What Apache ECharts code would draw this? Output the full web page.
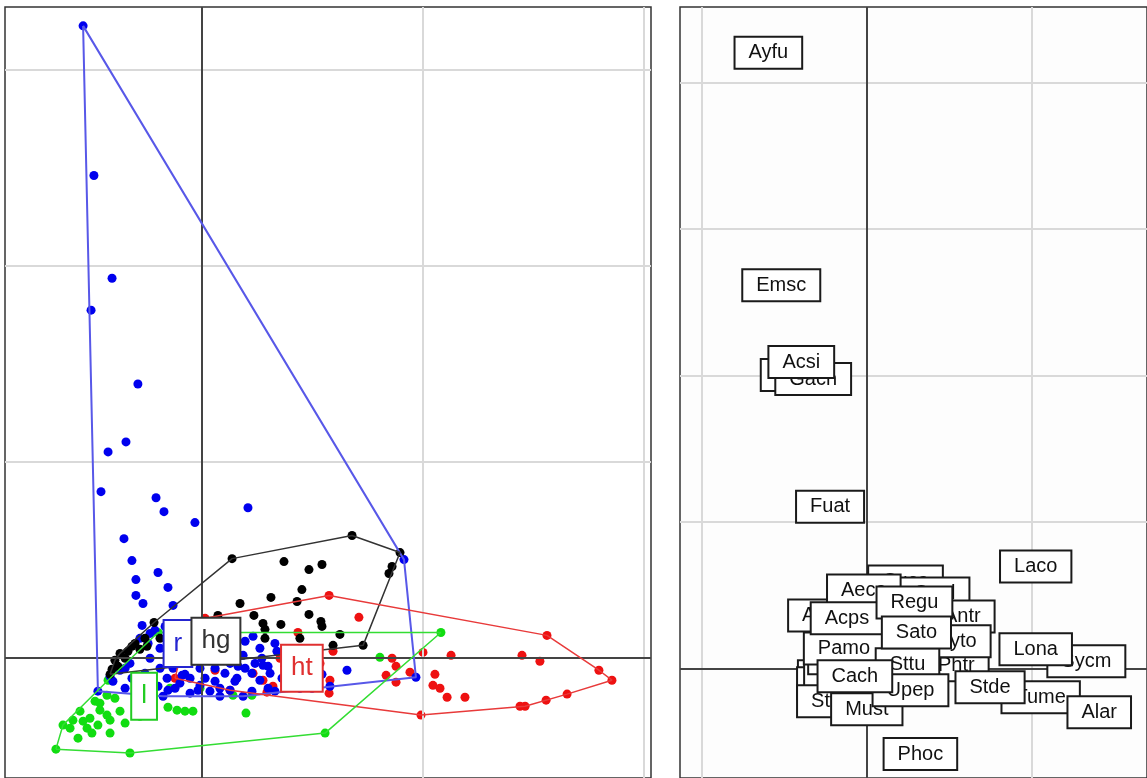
<!DOCTYPE html>
<html>
<head>
<meta charset="utf-8">
<script src="https://cdn.jsdelivr.net/npm/echarts@6/dist/echarts.min.js"></script>
<style>
  html, body { margin: 0; padding: 0; background: #fff; }
  #main { width: 1147px; height: 778px; }
</style>
</head>
<body>
<div id="main"></div>
<script>
// group scores (left panel), one grid step = 1
var rPts = [
  [-0.538,3.225],[-0.489,2.461],[-0.407,1.936],[-0.502,1.773],[-0.290,1.396],[-0.344,1.100],[-0.425,1.049],
  [-0.457,0.846],[-0.208,0.815],[-0.172,0.744],[-0.032,0.688],[0.208,0.764],[-0.353,0.606],[-0.317,0.494],
  [-0.199,0.433],[-0.299,0.397],[-0.154,0.357],[-0.299,0.316],[-0.267,0.275],[-0.131,0.265],[-0.271,0.163],
  [-0.281,0.097],[0.914,0.499],[0.968,-0.102],[0.656,-0.066],[-0.471,-0.173],[-0.403,-0.122],[0.195,0.082],
  [0.231,0.107],[0.158,-0.107],[0.036,-0.173],[-0.054,-0.107],[-0.009,-0.143],[-0.090,-0.092],[-0.131,-0.056],
  [-0.158,-0.107],[0.186,0.010],[0.271,-0.005],[0.276,-0.041],[0.149,-0.122],[0.226,-0.173],[0.339,0.031],
  [-0.176,-0.199],[0.186,-0.199],[0.579,-0.148],[-0.235,-0.005],[-0.190,0.046],[-0.326,-0.031],[-0.258,-0.082],
  [-0.348,-0.158],[-0.281,-0.148],[-0.199,-0.148],[-0.122,-0.158],[-0.054,-0.183],[0.081,-0.158],[0.104,-0.082],
  [0.059,-0.056],[0.262,-0.117],[0.308,-0.082],[0.376,-0.046],[0.421,-0.005],[0.443,-0.158],[0.525,-0.122],
  [0.014,-0.107],[-0.100,-0.132],[0.127,-0.031],[-0.244,0.071],[-0.213,0.138],[-0.371,-0.066],[-0.416,-0.097],
  [-0.290,-0.183],[0.240,-0.031],[0.299,-0.158],[0.376,-0.148],[-0.032,-0.005],[0.036,0.020],[0.136,0.046],
  [0.081,-0.199],[-0.009,-0.056],[-0.077,-0.031],[-0.190,-0.056],[0.195,-0.056],[0.330,-0.173],[0.398,-0.087],
  [0.489,-0.056],[-0.235,0.122],[-0.167,0.158],[-0.145,0.071],[-0.122,0.020],[-0.054,0.046],[0.014,-0.015],
  [0.090,-0.005],[0.163,-0.046],[0.226,-0.082],[0.299,-0.046],[0.362,-0.107],[0.425,-0.117],[0.498,-0.158],
  [0.543,-0.087],[0.059,-0.122],[0.127,-0.168],[-0.018,-0.168],[-0.077,-0.087],[-0.154,-0.168],[-0.235,-0.168],
  [-0.317,-0.107],[-0.348,-0.056],[0.262,0.046],[0.330,0.071]
];
var hgPts = [
  [0.679,0.622],[0.896,0.535],[0.136,0.504],[0.371,0.489],[0.484,0.448],[0.543,0.474],[0.860,0.464],
  [0.846,0.428],[0.452,0.346],[0.312,0.306],[0.172,0.275],[0.430,0.285],[0.235,0.214],[0.484,0.219],
  [0.276,0.173],[0.285,0.143],[0.357,0.168],[0.538,0.183],[0.543,0.158],[0.624,0.117],[0.729,0.061],
  [0.593,0.061],[-0.217,0.178],[0.072,0.214],[-0.371,0.020],[-0.407,-0.061],[-0.416,-0.087],[-0.281,0.041],
  [-0.249,0.056],[-0.335,0.031],[-0.303,0.071],[-0.190,0.097],[0.285,0.097],[0.443,0.097],[-0.394,-0.015],
  [-0.348,-0.005],[-0.317,0.056],[-0.258,0.097],[-0.380,-0.046]
];
var htPts = [
  [0.575,0.316],[0.710,0.204],[0.434,0.127],[1.561,0.112],[1.000,0.025],[1.127,0.010],[1.448,0.010],
  [1.529,-0.020],[0.860,-0.005],[0.878,-0.046],[0.833,-0.092],[0.941,-0.076],[0.878,-0.127],[1.054,-0.087],
  [1.045,-0.143],[1.077,-0.158],[1.109,-0.204],[1.190,-0.204],[1.796,-0.066],[1.855,-0.117],[1.652,-0.188],
  [1.557,-0.219],[1.462,-0.250],[1.439,-0.250],[0.991,-0.295],[0.575,-0.183],[0.294,-0.178],[0.231,-0.082],
  [0.276,-0.117],[0.321,-0.148],[0.579,-0.117],[0.593,0.031],[0.014,0.199],[-0.100,-0.005],[-0.122,-0.107],
  [0.127,-0.168],[0.059,-0.066],[0.534,-0.031],[0.353,-0.005]
];
var lPts = [
  [1.081,0.127],[0.805,0.000],[-0.661,-0.469],[-0.326,-0.489],[0.557,-0.387],[-0.629,-0.346],[-0.425,-0.117],
  [-0.484,-0.224],[-0.552,-0.275],[-0.584,-0.321],[-0.507,-0.311],[-0.471,-0.346],[-0.430,-0.295],[-0.371,-0.275],
  [-0.538,-0.326],[-0.154,-0.255],[-0.113,-0.270],[-0.077,-0.275],[-0.041,-0.275],[0.199,-0.285],[-0.430,-0.194],
  [-0.462,-0.234],[0.140,-0.194],[0.226,-0.194],[-0.394,-0.209],[-0.520,-0.362],[-0.416,-0.321],[-0.199,0.127],
  [-0.009,-0.158],[-0.145,-0.158],[-0.597,-0.362],[-0.498,-0.387],[-0.416,-0.387],[-0.561,-0.413],[-0.462,-0.270],
  [-0.348,-0.336],[-0.281,-0.301]
];

// class labels (centroids)
var classNames = ['r', 'hg', 'ht', 'l'];
var classX = [-0.109, 0.063, 0.452, -0.262];
var classY = [0.071, 0.082, -0.056, -0.199];
var classColors = ['#2525d0', '#333333', '#e03030', '#22cc22'];

// species scores (right panel), first drawn = bottom
var spNames = ['Trtr','Frco','Erru','Paca','Pamo','Stvu','Must','Tume','Alar','Sycm','Lona','Cuca','Gagl','Anpl','Aeca',
  'Antr','Phtr','Jyto','Sttu','Upep','Cach','Acps','Regu','Sato','Stde','Laco','Phoc','Fuat','Acar','Gach','Acsi','Emsc','Ayfu'];
var spX = [-0.240,-0.216,-0.180,-0.132,-0.138,-0.216,0.000,1.051,1.405,1.327,1.021,0.234,0.408,-0.270,-0.018,
  0.577,0.541,0.553,0.246,0.264,-0.072,-0.120,0.288,0.300,0.745,1.021,0.324,-0.222,-0.432,-0.324,-0.396,-0.517,-0.595];
var spY = [-0.051,-0.099,-0.010,0.071,0.139,-0.221,-0.276,-0.194,-0.296,0.051,0.133,0.595,0.514,0.364,0.534,
  0.357,0.024,0.187,0.031,-0.146,-0.051,0.344,0.452,0.248,-0.126,0.697,-0.582,1.105,2.003,1.976,2.092,2.616,4.201];

// grid steps
var leftXGrid = [1, 2], leftYGrid = [1, 2, 3];
var rightXGrid = [-1, 1], rightYGrid = [1, 2, 3, 4];

var myChart = echarts.init(document.getElementById('main'));

// convex hull (monotone chain), closed
function hull(pts) {
  var p = pts.slice().sort(function (a, b) { return a[0] - b[0] || a[1] - b[1]; });
  function cross(o, a, b) { return (a[0] - o[0]) * (b[1] - o[1]) - (a[1] - o[1]) * (b[0] - o[0]); }
  var lower = [], upper = [];
  for (var i = 0; i < p.length; i++) {
    while (lower.length >= 2 && cross(lower[lower.length - 2], lower[lower.length - 1], p[i]) <= 0) lower.pop();
    lower.push(p[i]);
  }
  for (var j = p.length - 1; j >= 0; j--) {
    while (upper.length >= 2 && cross(upper[upper.length - 2], upper[upper.length - 1], p[j]) <= 0) upper.pop();
    upper.push(p[j]);
  }
  upper.pop(); lower.pop();
  var h = lower.concat(upper);
  h.push(h[0]);
  return h;
}

function gridLines(idx, xs, ys) {
  var d = [];
  xs.forEach(function (v) { d.push({ xAxis: v }); });
  ys.forEach(function (v) { d.push({ yAxis: v }); });
  return {
    type: 'scatter', xAxisIndex: idx, yAxisIndex: idx, data: [], z: 1, silent: true,
    markLine: {
      silent: true, symbol: ['none', 'none'], label: { show: false }, animation: false,
      lineStyle: { color: '#d9d9d9', width: 2, type: 'solid' },
      data: d
    }
  };
}
function zeroLines(idx) {
  return {
    type: 'scatter', xAxisIndex: idx, yAxisIndex: idx, data: [], z: 2, silent: true,
    markLine: {
      silent: true, symbol: ['none', 'none'], label: { show: false }, animation: false,
      lineStyle: { color: '#444', width: 2, type: 'solid' },
      data: [{ xAxis: 0 }, { yAxis: 0 }]
    }
  };
}
function pts(data, color) {
  return {
    type: 'scatter', xAxisIndex: 0, yAxisIndex: 0, data: data, symbolSize: 9, z: 4,
    itemStyle: { color: color, opacity: 1 }, emphasis: { disabled: true }
  };
}
function hullLine(data, color, w) {
  return {
    type: 'line', xAxisIndex: 0, yAxisIndex: 0, data: hull(data), symbol: 'none', z: 5,
    lineStyle: { color: color, width: w }, emphasis: { disabled: true }
  };
}

var classData = classNames.map(function (n, i) {
  return {
    name: n, value: [classX[i], classY[i]],
    label: { color: classColors[i], borderColor: classColors[i] }
  };
});
var spData = spNames.map(function (n, i) { return { name: n, value: [spX[i], spY[i]] }; });

var axisOff = { show: false, splitLine: { show: false } };

option = {
  animation: false,
  backgroundColor: '#fff',
  grid: [
    { left: 5, top: 7, width: 646, height: 773, show: true, borderColor: '#333', borderWidth: 1.5, backgroundColor: '#fff' },
    { left: 680, top: 7, width: 470, height: 773, show: true, borderColor: '#333', borderWidth: 1.5, backgroundColor: '#fdfdfd' }
  ],
  xAxis: [
    Object.assign({ type: 'value', gridIndex: 0, min: -0.8914, max: 2.0317 }, axisOff),
    Object.assign({ type: 'value', gridIndex: 1, min: -1.1291, max: 1.6937 }, axisOff)
  ],
  yAxis: [
    Object.assign({ type: 'value', gridIndex: 0, min: -0.6164, max: 3.3214 }, axisOff),
    Object.assign({ type: 'value', gridIndex: 1, min: -0.7449, max: 4.5136 }, axisOff)
  ],
  series: [
    gridLines(0, leftXGrid, leftYGrid),
    zeroLines(0),
    gridLines(1, rightXGrid, rightYGrid),
    zeroLines(1),
    pts(lPts, '#11dd11'),
    pts(htPts, '#ee1111'),
    pts(rPts, '#0000ee'),
    pts(hgPts, '#000000'),
    hullLine(rPts, '#5858e8', 2),
    hullLine(hgPts, '#333333', 1.5),
    hullLine(htPts, '#e83a3a', 1.5),
    hullLine(lPts, '#33dd33', 1.5),
    {
      type: 'scatter', xAxisIndex: 0, yAxisIndex: 0, data: classData, symbolSize: 0, z: 6,
      itemStyle: { opacity: 1 }, emphasis: { disabled: true },
      label: {
        show: true, position: 'inside', formatter: '{b}',
        fontFamily: 'Liberation Sans, Arial, sans-serif', fontSize: 26, lineHeight: 27,
        backgroundColor: '#fff', borderWidth: 2, padding: [9, 9]
      }
    },
    {
      type: 'scatter', xAxisIndex: 1, yAxisIndex: 1, data: spData, symbolSize: 0, z: 6,
      itemStyle: { opacity: 1 }, emphasis: { disabled: true },
      label: {
        show: true, position: 'inside', formatter: '{b}', color: '#111',
        fontFamily: 'Liberation Sans, Arial, sans-serif', fontSize: 20, lineHeight: 20,
        backgroundColor: '#fff', borderColor: '#1a1a1a', borderWidth: 2, padding: [5, 13]
      }
    }
  ]
};

myChart.setOption(option);
</script>
</body>
</html>
